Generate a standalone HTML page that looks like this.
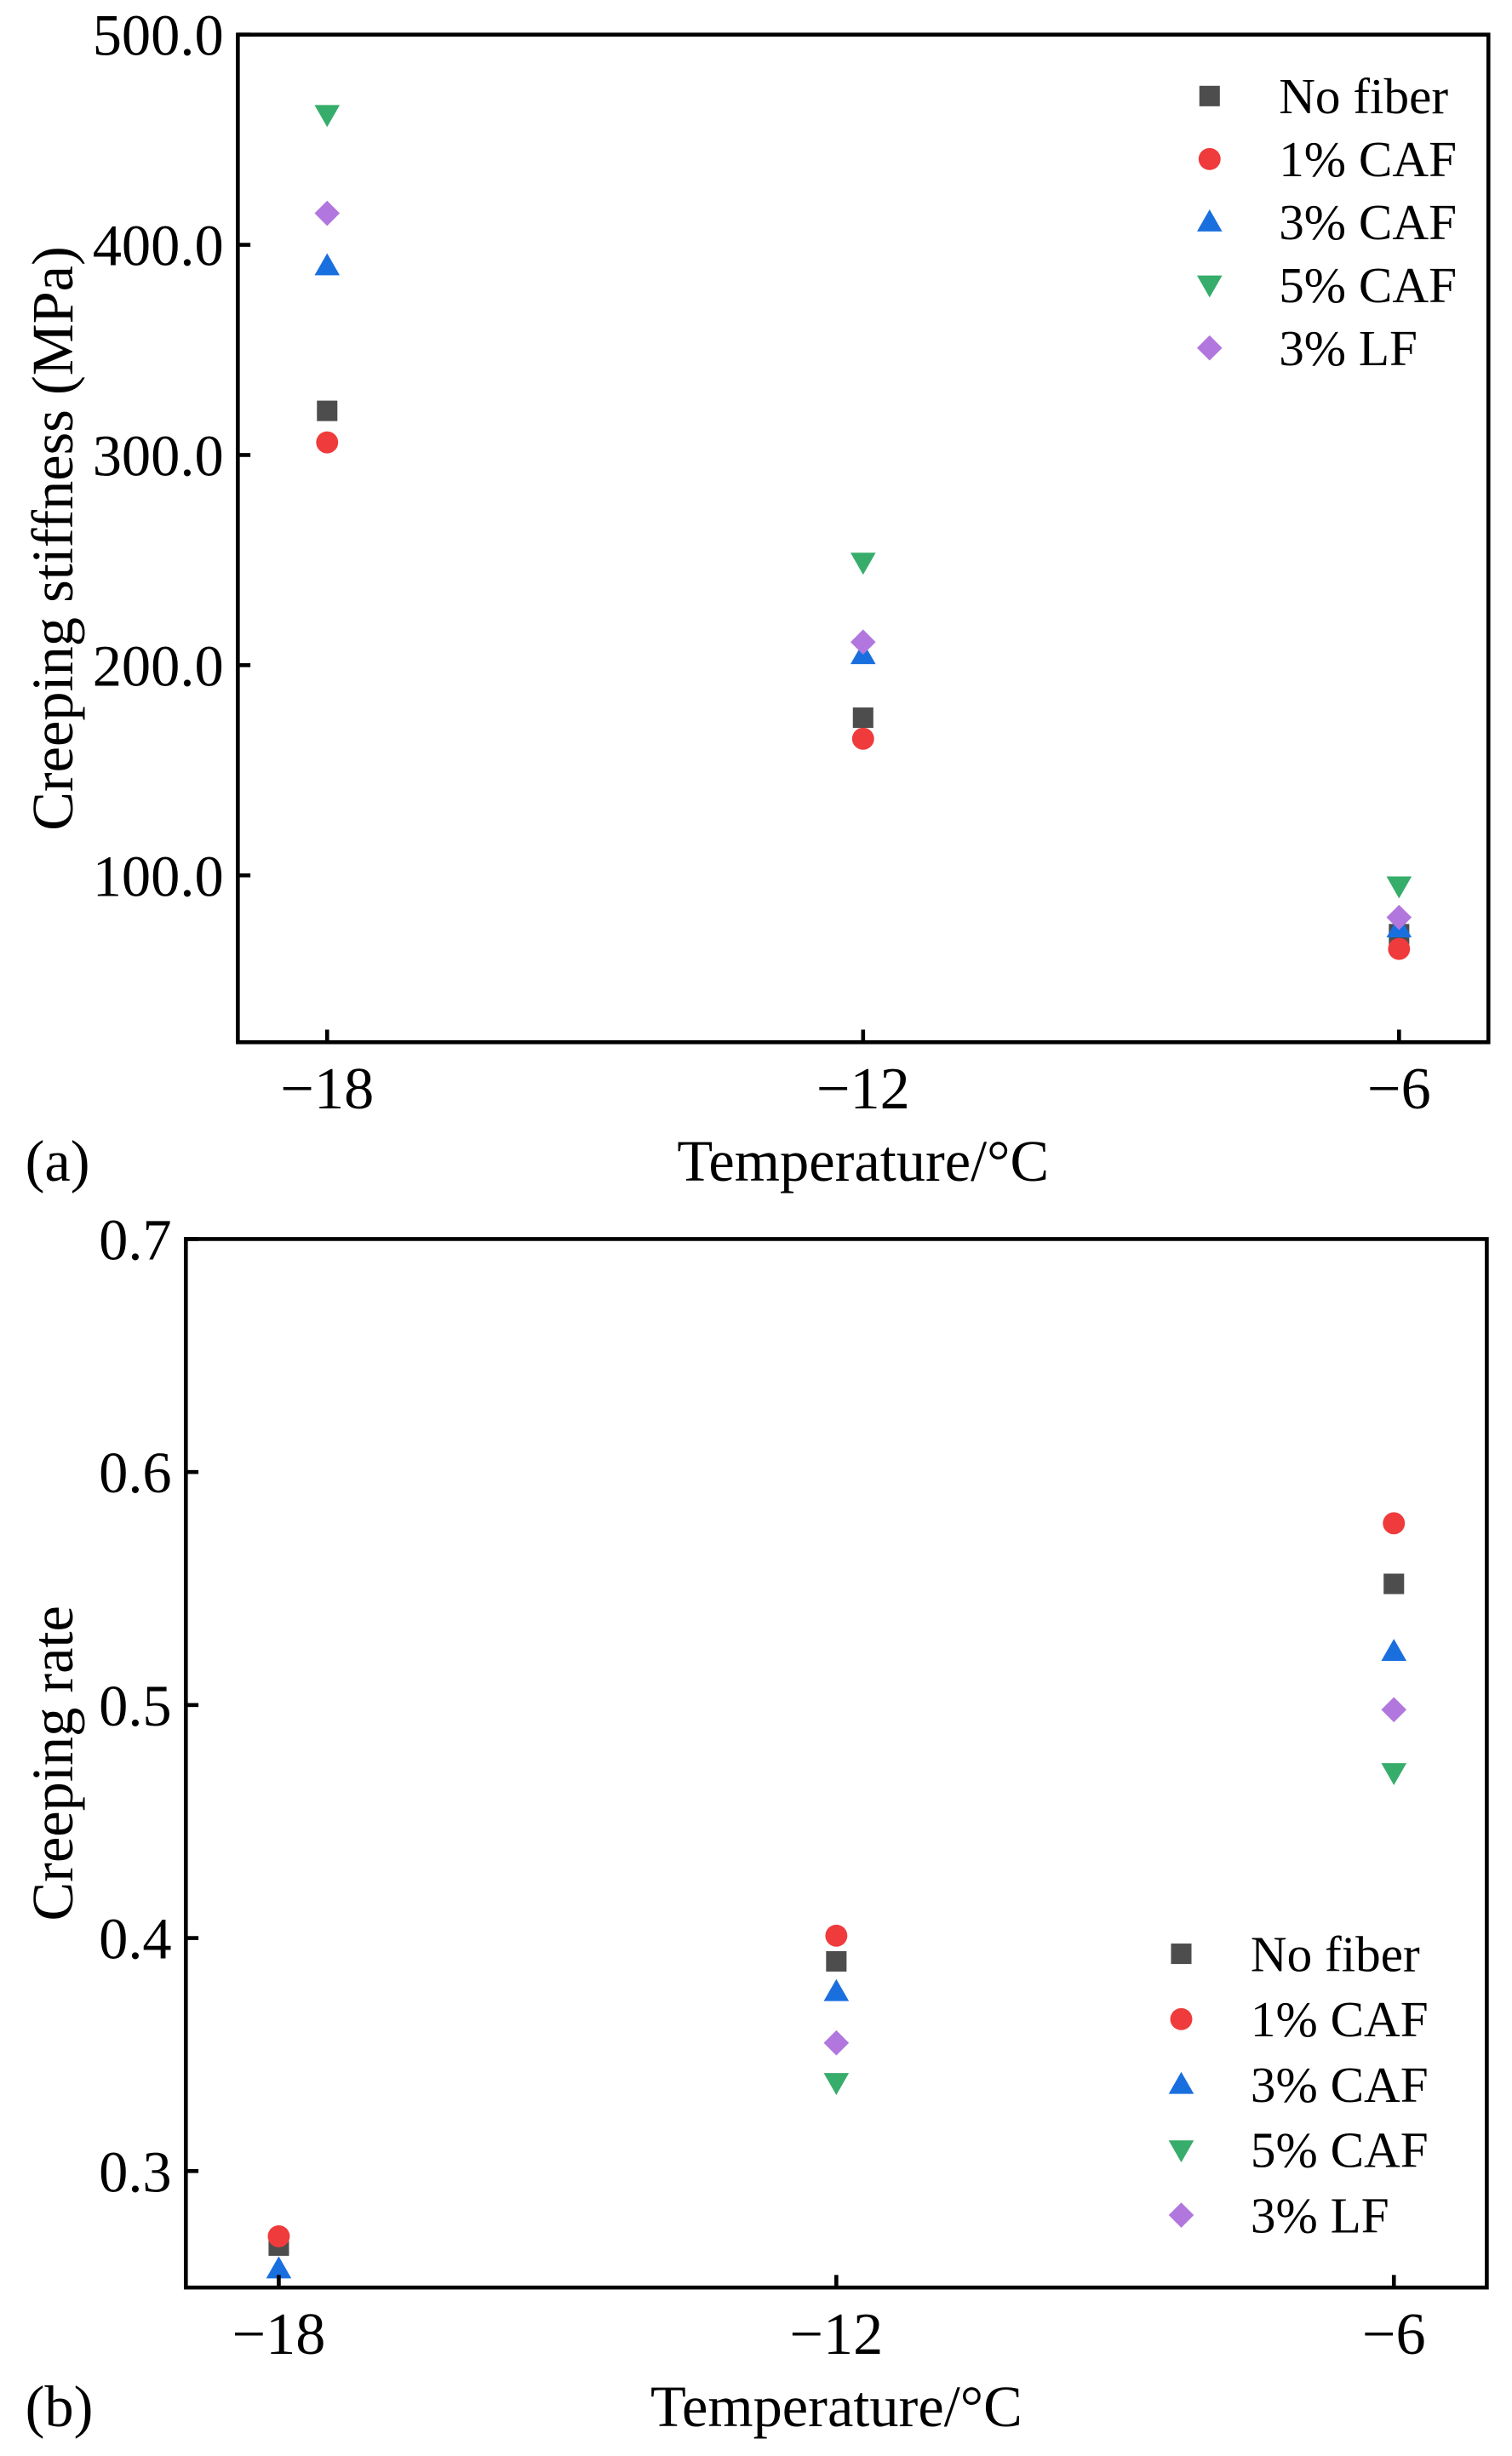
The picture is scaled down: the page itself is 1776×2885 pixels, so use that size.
<!DOCTYPE html>
<html><head><meta charset="utf-8"><style>
html,body{margin:0;padding:0;background:#fff;}
svg{display:block;}
text{font-family:"Liberation Serif","Times New Roman",serif;fill:#000;}
</style></head><body>
<svg id="chart" width="1776" height="2885" viewBox="0 0 960 1560" preserveAspectRatio="none" xmlns="http://www.w3.org/2000/svg"></svg>
<script>
const temps = [-18, -12, -6];
const seriesNames = ["No fiber", "1% CAF", "3% CAF", "5% CAF", "3% LF"];
const stiffNoFiber = [321, 175, 72];
const stiff1CAF = [306, 165, 65];
const stiff3CAF = [390, 205, 75];
const stiff5CAF = [462, 249, 95];
const stiff3LF = [415, 211, 80];
const rateNoFiber = [0.268, 0.390, 0.552];
const rate1CAF = [0.272, 0.401, 0.578];
const rate3CAF = [0.258, 0.377, 0.523];
const rate5CAF = [0.24, 0.338, 0.471];
const rate3LF = [0.245, 0.355, 0.498];
const stiffTicks = [100, 200, 300, 400, 500];
const rateTicks = [0.3, 0.4, 0.5, 0.6, 0.7];
const xTicks = [-18, -12, -6];

const colors = ["#4d4d4d", "#ef3b3b", "#1a6fdf", "#37ad6b", "#b177de"];
const shapes = ["square", "circle", "up", "down", "diamond"];
const NS = "http://www.w3.org/2000/svg";
const svg = document.getElementById("chart");
function mk(tag, attrs, parent) {
  const e = document.createElementNS(NS, tag);
  for (const k in attrs) e.setAttribute(k, attrs[k]);
  (parent || svg).appendChild(e);
  return e;
}
function marker(shape, x, y, color, parent) {
  let e;
  if (shape === "square") e = mk("rect", {x: x-6.5, y: y-6.5, width: 13, height: 13, fill: color}, parent);
  else if (shape === "circle") e = mk("circle", {cx: x, cy: y, r: 7, fill: color}, parent);
  else if (shape === "up") e = mk("polygon", {points: `${x},${y-8} ${x+8},${y+6} ${x-8},${y+6}`, fill: color}, parent);
  else if (shape === "down") e = mk("polygon", {points: `${x},${y+8} ${x+8},${y-6} ${x-8},${y-6}`, fill: color}, parent);
  else e = mk("polygon", {points: `${x},${y-8} ${x+8},${y} ${x},${y+8} ${x-8},${y}`, fill: color}, parent);
  return e;
}
function panel(cfg) {
  const g = mk("g", {});
  
  
  const {L, R, T, B, x0, x1, y0, y1} = cfg;
  const sx = v => L + (v - x0) / (x1 - x0) * (R - L);
  const sy = v => B - (v - y0) / (y1 - y0) * (B - T);
  const clipId = cfg.name + "-clip";
  const cp = mk("clipPath", {id: clipId}, g);
  mk("rect", {x: L, y: T, width: R-L, height: B-T}, cp);
  const marks = mk("g", {"clip-path": `url(#${clipId})`}, g);
  cfg.series.forEach((arr, si) => {
    arr.forEach((v, i) => {
      const m = marker(shapes[si], sx(temps[i]), sy(v), colors[si], marks);
      
      
    });
  });
  const frame = mk("rect", {x: L, y: T, width: R-L, height: B-T, fill: "none", stroke: "#000", "stroke-width": 2.5}, g);
  
  
  cfg.yTicks.forEach(v => {
    const y = sy(v);
    mk("line", {x1: L, x2: L+8, y1: y, y2: y, stroke: "#000", "stroke-width": 2.5}, g);
    const t = mk("text", {x: L-9, y: y+13, "text-anchor": "end", "font-size": 37}, g);
    t.textContent = cfg.fmt(v);
    
    
  });
  xTicks.forEach(v => {
    const x = sx(v);
    mk("line", {x1: x, x2: x, y1: B, y2: B-8, stroke: "#000", "stroke-width": 2.5}, g);
    const t = mk("text", {x: x, y: B+42, "text-anchor": "middle", "font-size": 38}, g);
    t.textContent = "\u2212" + Math.abs(v);
    
    
  });
  const xt = mk("text", {x: (L+R)/2, y: B+88, "text-anchor": "middle", "font-size": 37}, g);
  xt.textContent = "Temperature/\u00B0C";
  
  
  const yt = mk("text", {x: 0, y: 0, "text-anchor": "middle", "font-size": 37, transform: `translate(46,${cfg.yTitleY}) rotate(-90)`}, g);
  yt.textContent = cfg.yTitle;
  
  
  const pl = mk("text", {x: 16, y: B+88, "font-size": 37}, g);
  pl.textContent = cfg.label;
  
  
  const leg = mk("g", {}, g);
  
  
  seriesNames.forEach((n, i) => {
    const y = cfg.legY + i * cfg.legDy;
    marker(shapes[i], cfg.legX, y, colors[i], leg);
    const t = mk("text", {x: cfg.legX + 44, y: y + 11, "font-size": 32}, leg);
    t.textContent = n;
    
    
  });
}
panel({name: "stiffness-panel", L: 151, R: 945, T: 22, B: 662, x0: -19, x1: -5, y0: 20.6, y1: 500,
  series: [stiffNoFiber, stiff1CAF, stiff3CAF, stiff5CAF, stiff3LF], yTicks: stiffTicks,
  fmt: v => v.toFixed(1), yTitle: "Creeping stiffness (MPa)", yTitleY: 342, label: "(a)",
  legX: 768, legY: 61, legDy: 40});
panel({name: "rate-panel", L: 118, R: 944, T: 787, B: 1453, x0: -19, x1: -5, y0: 0.25, y1: 0.7,
  series: [rateNoFiber, rate1CAF, rate3CAF, rate5CAF, rate3LF], yTicks: rateTicks,
  fmt: v => v.toFixed(1), yTitle: "Creeping rate", yTitleY: 1120, label: "(b)",
  legX: 750, legY: 1241, legDy: 41.5});
</script>
</body></html>
